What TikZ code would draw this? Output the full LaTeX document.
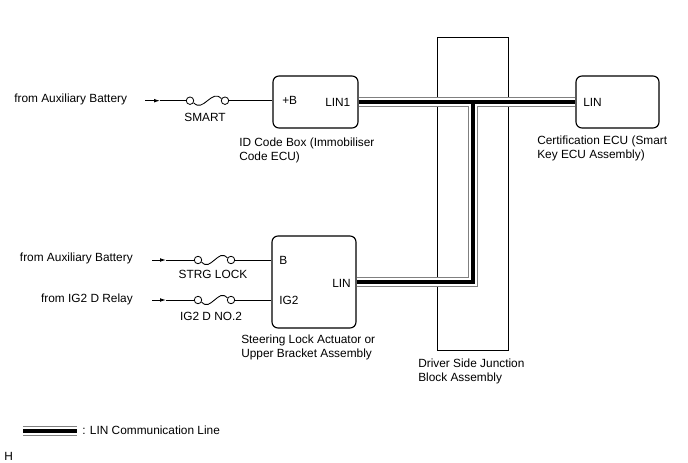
\documentclass[tikz,border=0pt]{standalone}
\usepackage{fontspec}
\setmainfont{Liberation Sans}
\usetikzlibrary{arrows.meta,calc,positioning}

\tikzset{
	unitbox/.style={draw, line width=0.85pt, rounded corners=4.5pt, fill=white, inner sep=0pt},
	wire/.style={line width=0.65pt},
	term/.style={draw, circle, line width=0.6pt, inner sep=0pt, minimum size=5.6pt, fill=white},
	lbl/.style={font=\fontsize{8.9}{10.5}\selectfont, inner sep=0pt, align=left, yshift=-1pt},
}

\begin{document}
\begin{tikzpicture}[x=0.75pt, y=-0.75pt]

		\useasboundingbox (0,0) rectangle (688,463);

		% === Units ===
		\node[draw, line width=0.7pt, minimum width=53.25pt, minimum height=234.75pt, inner sep=0pt] (junction) at (472.5,193.5) {};
		\node[unitbox, minimum width=63.75pt, minimum height=39pt] (idbox) at (315.5,102) {};
		\node[unitbox, minimum width=62.25pt, minimum height=39pt] (certecu) at (617.5,102) {};
		\node[unitbox, minimum width=63pt, minimum height=69pt] (steerbox) at (314,282) {};
		\coordinate (tee) at (473,102);

		% === LIN line: gray, white and black passes ===
		\foreach \w/\c in {7.5pt/gray, 5.9pt/white, 3.2pt/black} {
			\draw[line width=\w, color=\c, line join=miter] (idbox.east) -- (certecu.west) (steerbox.east) -| (tee);
		}

		% === Fused feeds ===
		\foreach \f/\y/\xs/\xt/\xl/\xr/\b/\xf/\yf/\t in {
			smart/100.7/145/160/190/225/idbox/205/116/SMART,
			strg/260/152/166/198/231/steerbox/213/273/STRG LOCK,
			igd/300/152/166/198/231/steerbox/211/315/IG2 D NO.2} {
			\coordinate (\f start) at (\xs,\y);
			\coordinate (\f tip) at (\xt,\y);
			\node[term] (\f l) at (\xl,\y) {};
			\node[term] (\f r) at (\xr,\y) {};
			\coordinate (\f mid) at ($(\f l)!.5!(\f r)$);
			\draw[wire, -{Latex[length=4.5pt,width=2.8pt]}] (\f start) -- (\f tip);
			\draw[wire] (\f tip) -- (\f l);
			\draw[wire] (\f r) -- (\b.west |- \f r);
			\draw[wire] (\f l.-30) .. controls +(5,5) and +(-5,4) .. (\f mid) .. controls +(5,-4) and +(-5,-5) .. (\f r.150);
			\node[lbl] (\f name) at (\xf,\yf) {\t};
		}

		% === Feed labels ===
		\node[lbl, anchor=west] (batone) at (14,98) {from Auxiliary Battery};
		\node[lbl, anchor=east] (battwo) at (133,257) {from Auxiliary Battery};
		\node[lbl, anchor=east] (igrelay) at (133,298) {from IG2 D Relay};

		% === Pin labels ===
		\node[lbl, anchor=west] (pinb) at (282,99) {+B};
		\node[lbl, anchor=west] (pinlinone) at (325,101) {LIN1};
		\node[lbl, anchor=west] (pincert) at (583,101) {LIN};
		\node[lbl, anchor=west] (pinbat) at (279,259) {B};
		\node[lbl, anchor=west] (pinig) at (279,299) {IG2};
		\node[lbl, anchor=west] (pinlin) at (332,282) {LIN};

		% === Unit names ===
		\node[lbl, anchor=west] (idname) at (239,149) {ID Code Box (Immobiliser\\Code ECU)};
		\node[lbl, anchor=west] (certname) at (537,147) {Certification ECU (Smart\\Key ECU Assembly)};
		\node[lbl, anchor=west] (steername) at (241,346) {Steering Lock Actuator or\\Upper Bracket Assembly};
		\node[lbl, anchor=west] (junctionname) at (418,370) {Driver Side Junction\\Block Assembly};

		% === Legend ===
		\coordinate (legstart) at (23,431);
		\coordinate (legend) at (77,431);
		\foreach \w/\c in {7.5pt/gray, 5.9pt/white, 3.2pt/black} {
			\draw[line width=\w, color=\c] (legstart) -- (legend);
		}
		\node[lbl, anchor=west] (legname) at (82,429) {: LIN Communication Line};
		\node[lbl, anchor=west] (figmark) at (4,455) {H};
	\end{tikzpicture}
\end{document}
